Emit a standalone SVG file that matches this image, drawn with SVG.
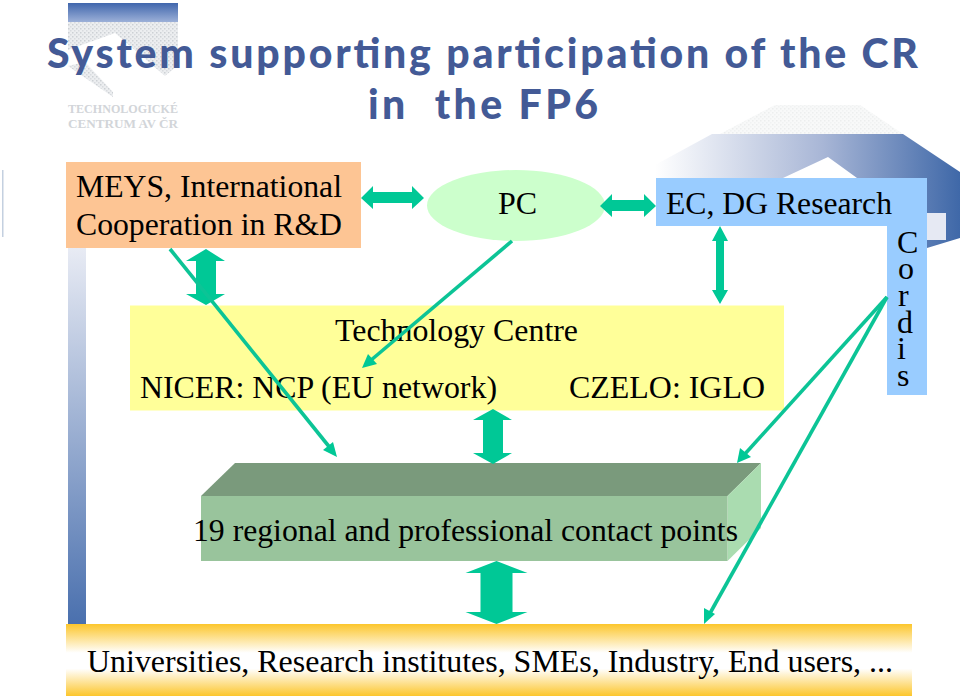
<svg xmlns="http://www.w3.org/2000/svg" width="960" height="700" viewBox="0 0 960 700">
<style>
.t{font-family:"Liberation Serif","Times New Roman",serif;font-size:32px;fill:#000}
.h{font-family:Lato,"DejaVu Sans",sans-serif;font-size:41px;font-weight:900;fill:#435a96}
.a{fill:#00c896;stroke:none}
.l{fill:none;stroke:#0cc496;stroke-width:3.600}
.lg{font-family:"Liberation Serif",serif;font-weight:bold;font-size:13px;fill:#d2d5d9}
</style>
<defs>
<linearGradient id="bar" x1="0" y1="0" x2="0" y2="1"><stop offset="0" stop-color="#e8ebf4"/><stop offset="1" stop-color="#4a70ae"/></linearGradient>
<linearGradient id="top" x1="0" y1="0" x2="0" y2="1"><stop offset="0" stop-color="#4066ac"/><stop offset="1" stop-color="#9cb0d8"/></linearGradient>
<linearGradient id="roof" x1="0" y1="0" x2="1" y2="0"><stop offset="0" stop-color="#ffffff"/><stop offset="0.55" stop-color="#a8b6d6"/><stop offset="1" stop-color="#3f68a8"/></linearGradient>
<linearGradient id="band" x1="0" y1="0" x2="0" y2="1"><stop offset="0" stop-color="#fcc62c"/><stop offset="0.4" stop-color="#ffffff"/><stop offset="0.62" stop-color="#ffffff"/><stop offset="1" stop-color="#fcc62c"/></linearGradient>
<pattern id="dots" width="4" height="4" patternUnits="userSpaceOnUse"><rect width="4" height="4" fill="#eceef0"/><rect x="0" y="0" width="1.500" height="1.500" fill="#ccd0d4"/><rect x="2" y="2" width="1.500" height="1.500" fill="#d8dbdf"/></pattern>
<pattern id="dots2" width="4" height="4" patternUnits="userSpaceOnUse"><rect width="4" height="4" fill="#f8f9f9"/><rect x="0" y="0" width="1.500" height="1.500" fill="#eceeee"/><rect x="2" y="2" width="1.500" height="1.500" fill="#f0f2f2"/></pattern>
</defs>
<g id="background">
<rect x="68" y="3" width="110" height="19" fill="url(#top)"/>
<path d="M68 22H178V65L165 76L115 33L68 50Z" fill="url(#dots)"/>
<path d="M68 66L85 62L113 92V97Z" fill="url(#dots)"/>
<text class="lg" x="68" y="113" textLength="110" lengthAdjust="spacingAndGlyphs">TECHNOLOGICKÉ</text>
<text class="lg" x="68" y="128" textLength="110" lengthAdjust="spacingAndGlyphs">CENTRUM AV ČR</text>
<path d="M720 134L775 105H860L903 134Z" fill="url(#dots2)"/>
<path d="M655 165L712 134H903L960 172V238L927 248V178H857L828 157L783 178H655Z" fill="url(#roof)"/>
<rect x="927" y="213" width="19" height="27" fill="#e6e9f3"/>
<rect x="2" y="170" width="1.500" height="67" fill="#c4d0e0"/>
<rect x="68" y="248" width="18" height="376" fill="url(#bar)"/>
</g>
<g id="title">
<text class="h" x="47" y="68" textLength="871" lengthAdjust="spacing">System supporting participation of the CR</text>
<text class="h" x="368" y="119" textLength="230" lengthAdjust="spacing" xml:space="preserve">in  the FP6</text>
</g>
<g id="meys">
<rect x="66" y="162" width="295" height="86" fill="#fdc594"/>
<text class="t" x="76" y="197" textLength="266" lengthAdjust="spacingAndGlyphs">MEYS, International</text>
<text class="t" x="76" y="235" textLength="266" lengthAdjust="spacingAndGlyphs">Cooperation in R&amp;D</text>
</g>
<g id="pc">
<ellipse cx="516" cy="205.500" rx="89" ry="35.500" fill="#ccffcc"/>
<text class="t" x="498" y="214">PC</text>
</g>
<g id="ec">
<path d="M656 178H927V395H887V226H656Z" fill="#99ccff"/>
<text class="t" x="666" y="214" textLength="226" lengthAdjust="spacingAndGlyphs">EC, DG Research</text>
<text class="t"><tspan x="897" y="253">C</tspan><tspan x="898" y="279">o</tspan><tspan x="898" y="306">r</tspan><tspan x="897" y="333">d</tspan><tspan x="897" y="359">i</tspan><tspan x="897" y="386">s</tspan></text>
</g>
<g id="tc">
<rect x="130" y="305.500" width="654" height="105" fill="#ffff99"/>
<text class="t" x="335" y="341" textLength="243" lengthAdjust="spacingAndGlyphs">Technology Centre</text>
<text class="t" x="140" y="398" textLength="357" lengthAdjust="spacingAndGlyphs">NICER: NCP (EU network)</text>
<text class="t" x="569" y="398" textLength="196" lengthAdjust="spacingAndGlyphs">CZELO: IGLO</text>
</g>
<g id="contacts">
<path d="M201 496L235 463H761L727.500 496Z" fill="#7a9a7c"/>
<path d="M727.500 496L761 463V528L727.500 561Z" fill="#aadcb0"/>
<rect x="201" y="496" width="526.500" height="65" fill="#99c49c"/>
<text class="t" x="193" y="541" textLength="545" lengthAdjust="spacingAndGlyphs">19 regional and professional contact points</text>
</g>
<g id="users">
<rect x="66" y="624" width="846" height="72" fill="url(#band)"/>
<text class="t" x="87" y="672" textLength="806" lengthAdjust="spacingAndGlyphs">Universities, Research institutes, SMEs, Industry, End users, ...</text>
</g>
<g id="connectors">
<path class="a" d="M361 198L373 186V192H412V186L424 198L412 209V203H373V209Z"/>
<path class="a" d="M600 206L612 194V200H644V194L656 206L644 217V211H612V217Z"/>
<path class="a" d="M720 226L728 241H724V290H728L720 304L712 290H716V241H712Z"/>
<path class="a" d="M206 249L225 261H216V294H225L206 305L186 294H196V261H186Z"/>
<path class="a" d="M493 409L512 420H503V453H512L493 464L473 453H483V420H473Z"/>
<path class="a" d="M496.500 561L527.500 573H512.500V612H527.500L496.500 624L465.500 612H480.500V573H465.500Z"/>
<path class="l" d="M170 249L331 449"/>
<path class="a" d="M337 457L323 450L333 442Z"/>
<path class="l" d="M512 241L370 361"/>
<path class="a" d="M362 368L368 354L377 364Z"/>
<path class="l" d="M887 297L744 455"/>
<path class="a" d="M737 463L740 448L751 457Z"/>
<path class="l" d="M887 297L709 615"/>
<path class="a" d="M704 624L704 608L715 614Z"/>
</g>
</svg>
